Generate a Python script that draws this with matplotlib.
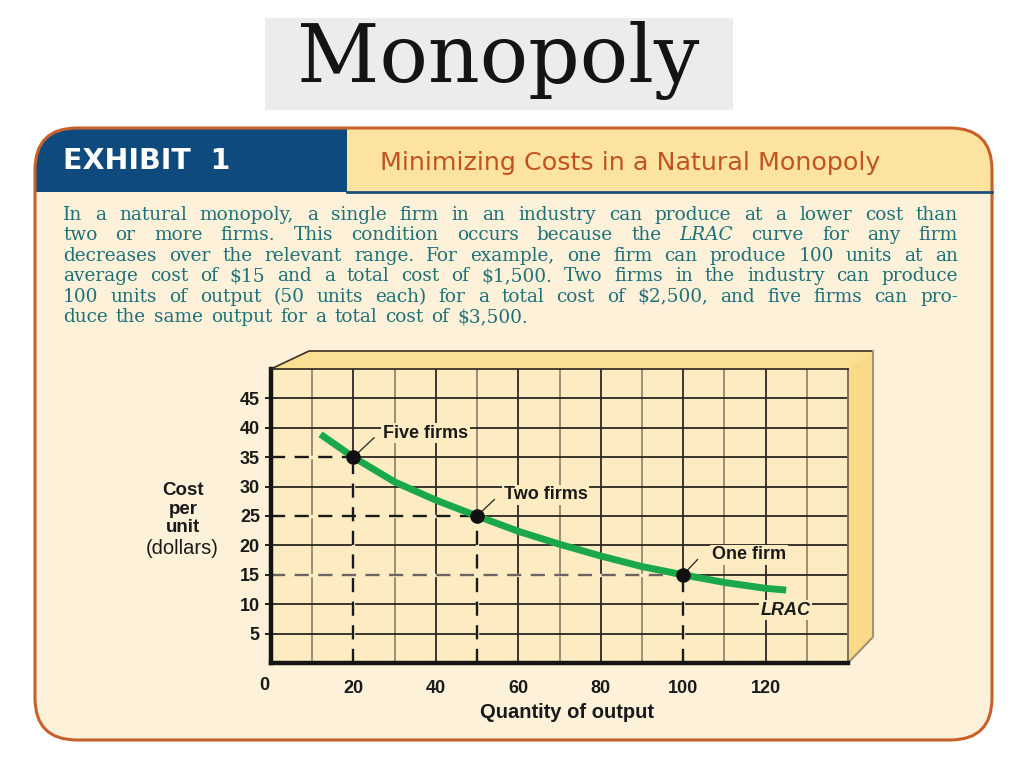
import matplotlib
matplotlib.use("Agg")
import matplotlib.pyplot as plt
from matplotlib.patches import FancyBboxPatch, Rectangle, Polygon

# ---- data ----
lrac_x = [12, 20, 30, 40, 50, 60, 70, 80, 90, 100, 110, 120, 125]
lrac_y = [38.9, 35, 30.8, 27.7, 25, 22.4, 20.2, 18.2, 16.4, 15, 13.7, 12.7, 12.4]

point_x = [20, 50, 100]
point_y = [35, 25, 15]
point_labels = ["Five firms", "Two firms", "One firm"]
label_x = [37.5, 66.7, 116]
label_y = [39.1, 28.6, 18.4]

x_ticks = [20, 40, 60, 80, 100, 120]
y_ticks = [5, 10, 15, 20, 25, 30, 35, 40, 45]

para_lines = [
    "In a natural monopoly, a single firm in an industry can produce at a lower cost than",
    "two or more firms. This condition occurs because the _LRAC_ curve for any firm",
    "decreases over the relevant range. For example, one firm can produce 100 units at an",
    "average cost of $15 and a total cost of $1,500. Two firms in the industry can produce",
    "100 units of output (50 units each) for a total cost of $2,500, and five firms can pro-",
    "duce the same output for a total cost of $3,500.",
]

cream = "#fdf1da"
grid_face = "#fdecc2"
panel = "#fbdf93"
teal = "#1d7077"
ink = "#1a1a1a"

fig = plt.figure(figsize=(10.24, 7.68), dpi=100)
fig.patch.set_facecolor("white")

# page layer in pixel coords
bg = fig.add_axes([0, 0, 1, 1])
bg.set_xlim(0, 1024)
bg.set_ylim(768, 0)
bg.axis("off")

# title box
bg.add_patch(Rectangle((265, 18), 468, 92, fc="#ececec", ec="none"))
bg.text(498, 60, "Monopoly", family="DejaVu Serif", fontsize=58,
        ha="center", va="center", color="#141414")

# exhibit box
box = FancyBboxPatch((35, 128), 957, 612, boxstyle="round,pad=0,rounding_size=42",
                     fc=cream, ec="none")
bg.add_patch(box)
blue = Rectangle((35, 128), 312, 64, fc="#0e4a7e", ec="none")
yel = Rectangle((347, 128), 645, 64, fc="#fde3a0", ec="none")
for p in (blue, yel):
    bg.add_patch(p)
    p.set_clip_path(box)
bg.plot([347, 992], [192, 192], color="#1d4f7c", lw=2)
bg.add_patch(FancyBboxPatch((35, 128), 957, 612, boxstyle="round,pad=0,rounding_size=42",
                            fc="none", ec="#c8602a", lw=2.2))
bg.text(63, 161, "EXHIBIT  1", family="DejaVu Sans", fontweight="bold",
        fontsize=20.5, color="white", va="center", ha="left")
bg.text(380, 163, "Minimizing Costs in a Natural Monopoly", family="DejaVu Sans",
        fontsize=18.3, color="#c2521f", va="center", ha="left")

# justified paragraph
renderer = fig.canvas.get_renderer()
x0, x1 = 63, 958
for i, line in enumerate(para_lines):
    y = 215 + i * 20.4
    words = line.split()
    texts = []
    for w in words:
        italic = w.startswith("_")
        t = bg.text(0, y, w.strip("_"), family="DejaVu Serif", fontsize=13.3,
                    style="italic" if italic else "normal", color=teal,
                    va="center", ha="left", parse_math=False)
        texts.append(t)
    widths = [t.get_window_extent(renderer).width for t in texts]
    if i == len(para_lines) - 1:
        gap = 8
    else:
        gap = (x1 - x0 - sum(widths)) / (len(words) - 1)
    x = x0
    for t, w in zip(texts, widths):
        t.set_x(x)
        x += w + gap

# 3d look of the chart box
bg.add_patch(Polygon([(271, 369), (309, 351), (873, 351), (848, 369)],
                     fc=panel, ec="none"))
bg.add_patch(Polygon([(848, 369), (873, 351), (873, 637), (848, 663)],
                     fc="#f9da88", ec="none"))
bg.plot([271, 309, 873], [369, 351, 351], color="#3a3026", lw=1.2)
bg.plot([873, 873, 848], [351, 637, 663], color="#a39374", lw=1.5)

# axis labels
bg.text(183, 509, "Cost\nper\nunit", family="Liberation Sans", fontweight="bold",
        fontsize=13.5, ha="center", va="center", linespacing=1.12, color=ink)
bg.text(182, 548, "(dollars)", family="Liberation Sans", fontsize=14.5,
        ha="center", va="center", color=ink)
bg.text(567, 712, "Quantity of output", family="Liberation Sans", fontweight="bold",
        fontsize=14.5, ha="center", va="center", color=ink)

# chart
ax = fig.add_axes([271 / 1024, 1 - 663 / 768, 577 / 1024, 294 / 768])
ax.set_facecolor(grid_face)
ax.set_xlim(0, 140)
ax.set_ylim(0, 50)

for gx in range(10, 140, 10):
    c = "#9c8d76" if gx % 20 else "#3d352d"
    ax.axvline(gx, color=c, lw=1.4, zorder=1)
for gy in range(5, 50, 5):
    ax.axhline(gy, color="#2b2520", lw=1.3, zorder=1)

for s in ("left", "bottom"):
    ax.spines[s].set_linewidth(3.2)
    ax.spines[s].set_color("#141414")
ax.spines["top"].set_linewidth(1.2)
ax.spines["top"].set_color("#2b2520")
ax.spines["right"].set_linewidth(1.4)
ax.spines["right"].set_color("#7d705c")

# dashed guides (blank the grid line underneath first)
for px, py in zip(point_x, point_y):
    ax.plot([0, px], [py, py], color=grid_face, lw=2.4, zorder=2)
    ax.plot([px, px], [0, py], color=grid_face, lw=2.4, zorder=2)
for px, py in zip(point_x, point_y):
    c = "#6a6560" if py == 15 else ink
    ax.plot([0, px], [py, py], color=c, lw=1.7, dashes=(6, 4), zorder=2.5)
    ax.plot([px, px], [0, py], color=ink, lw=1.7, dashes=(6, 4), zorder=2.5)

ax.plot(lrac_x, lrac_y, color="#1ba84b", lw=5, solid_capstyle="butt", zorder=3)
ax.plot(point_x, point_y, "o", color="#111111", ms=9.5, zorder=4)

for px, py, lab, lx, ly in zip(point_x, point_y, point_labels, label_x, label_y):
    ax.plot([px, lx - 12.5], [py, ly - 0.8], color="#222222", lw=0.9, zorder=3)
    ax.text(lx, ly, lab, family="Liberation Sans", fontweight="bold", fontsize=13,
            ha="center", va="center", color=ink, zorder=5,
            bbox=dict(fc=grid_face, ec="none", pad=1.2))
ax.text(124.8, 9.0, "LRAC", family="Liberation Sans", fontweight="bold",
        style="italic", fontsize=13, ha="center", va="center", color=ink,
        zorder=5, bbox=dict(fc=grid_face, ec="none", pad=1.0))

ax.set_xticks(x_ticks)
ax.set_yticks(y_ticks)
ax.tick_params(axis="x", length=0, pad=12, labelsize=13)
ax.tick_params(axis="y", length=4, width=1.2, pad=4, labelsize=13)
for lab in ax.get_xticklabels() + ax.get_yticklabels():
    lab.set_family("Liberation Sans")
    lab.set_fontweight("bold")
    lab.set_color(ink)
ax.annotate("0", xy=(0, 0), xytext=(-7, -23), textcoords="offset pixels",
            ha="center", va="center", family="Liberation Sans", fontweight="bold",
            fontsize=13, color=ink, annotation_clip=False)

fig.savefig("out.png", dpi=100, facecolor="white")
